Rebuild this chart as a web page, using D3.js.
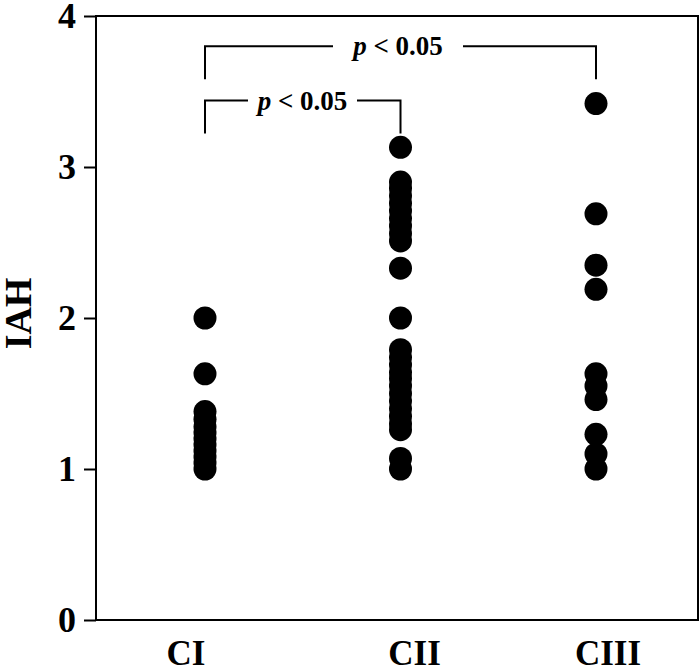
<!DOCTYPE html>
<html>
<head>
<meta charset="utf-8">
<script src="https://cdn.jsdelivr.net/npm/d3@7"></script>
<style>
  body { margin: 0; background: #fff; }
  svg { display: block; }
  text { font-family: "Liberation Serif", "Times New Roman", serif; font-weight: bold; fill: #000; }
</style>
</head>
<body>
<div id="chart"></div>
<script>
// groups on the x axis
var categories = ["CI", "CII", "CIII"];

// IAH values, one array per group
var valuesCI = [2.00, 1.63, 1.38, 1.33, 1.28, 1.24, 1.20, 1.16, 1.12, 1.08, 1.04, 1.00];
var valuesCII = [3.13, 2.90, 2.86, 2.81, 2.76, 2.71, 2.66, 2.61, 2.56, 2.51, 2.33, 2.00,
                 1.79, 1.74, 1.69, 1.64, 1.60, 1.55, 1.50, 1.45, 1.40, 1.35, 1.30, 1.26,
                 1.07, 1.00];
var valuesCIII = [3.42, 2.69, 2.35, 2.19, 1.63, 1.55, 1.46, 1.23, 1.10, 1.00];

var yTicks = [0, 1, 2, 3, 4];

// significance brackets
var comparisons = [
  {from: "CI", to: "CII", label: "< 0.05"},
  {from: "CI", to: "CIII", label: "< 0.05"}
];

var points = [];
valuesCI.forEach(function(v) { points.push({cat: "CI", v: v}); });
valuesCII.forEach(function(v) { points.push({cat: "CII", v: v}); });
valuesCIII.forEach(function(v) { points.push({cat: "CIII", v: v}); });

var width = 700, height = 671;
var margin = {top: 16, right: 2, bottom: 51, left: 96};

var svg = d3.select("#chart")
    .append("svg")
    .attr("width", width)
    .attr("height", height);

var y = d3.scaleLinear()
    .domain([0, 4])
    .range([height - margin.bottom, margin.top]);

var x = d3.scalePoint()
    .domain(categories)
    .range([205, 596]);

// frame
svg.append("rect")
    .attr("x", margin.left)
    .attr("y", margin.top)
    .attr("width", width - margin.left - margin.right)
    .attr("height", height - margin.top - margin.bottom)
    .attr("fill", "none")
    .attr("stroke", "#000")
    .attr("stroke-width", 2);

// y axis
var yAxis = svg.append("g")
    .attr("transform", "translate(" + margin.left + ",0)")
    .call(d3.axisLeft(y).tickValues(yTicks).tickSize(12).tickPadding(8).tickFormat(d3.format("d")));
yAxis.select(".domain").remove();
yAxis.selectAll("line").attr("stroke", "#000").attr("stroke-width", 2);
yAxis.selectAll("text")
    .attr("font-size", 36)
    .attr("font-family", "Liberation Serif, serif")
    .attr("font-weight", "bold")
    .attr("fill", "#000");

// y label
svg.append("text")
    .attr("transform", "translate(31," + y(2.03) + ") rotate(-90)")
    .attr("text-anchor", "middle")
    .attr("font-size", 38)
    .text("IAH");

// category labels
var labelShift = {CI: -19, CII: 14, CIII: 12};
svg.selectAll(".cat")
    .data(categories)
    .enter().append("text")
    .attr("class", "cat")
    .attr("x", function(d) { return x(d) + labelShift[d]; })
    .attr("y", 665)
    .attr("text-anchor", "middle")
    .attr("font-size", 35)
    .text(function(d) { return d; });

// points
svg.selectAll(".dot")
    .data(points)
    .enter().append("circle")
    .attr("class", "dot")
    .attr("cx", function(d) { return x(d.cat); })
    .attr("cy", function(d) { return y(d.v); })
    .attr("r", 11.5)
    .attr("fill", "#000");

// brackets
var bracketTop = [y(3.44), y(3.80)];
var legLen = 33;
var gap = [[248, 357], [333, 463]];
comparisons.forEach(function(c, i) {
  var x1 = x(c.from), x2 = x(c.to), top = bracketTop[i];
  var g = svg.append("g")
      .attr("fill", "none")
      .attr("stroke", "#000")
      .attr("stroke-width", 2);
  g.append("path")
      .attr("d", "M" + x1 + "," + (top + legLen) + "V" + top + "H" + gap[i][0]);
  g.append("path")
      .attr("d", "M" + gap[i][1] + "," + top + "H" + x2 + "V" + (top + legLen));
  var t = svg.append("text")
      .attr("x", (gap[i][0] + gap[i][1]) / 2)
      .attr("y", top + 9)
      .attr("text-anchor", "middle")
      .attr("font-size", 27);
  t.append("tspan").attr("font-style", "italic").text("p");
  t.append("tspan").text(" " + c.label);
});
</script>
</body>
</html>
